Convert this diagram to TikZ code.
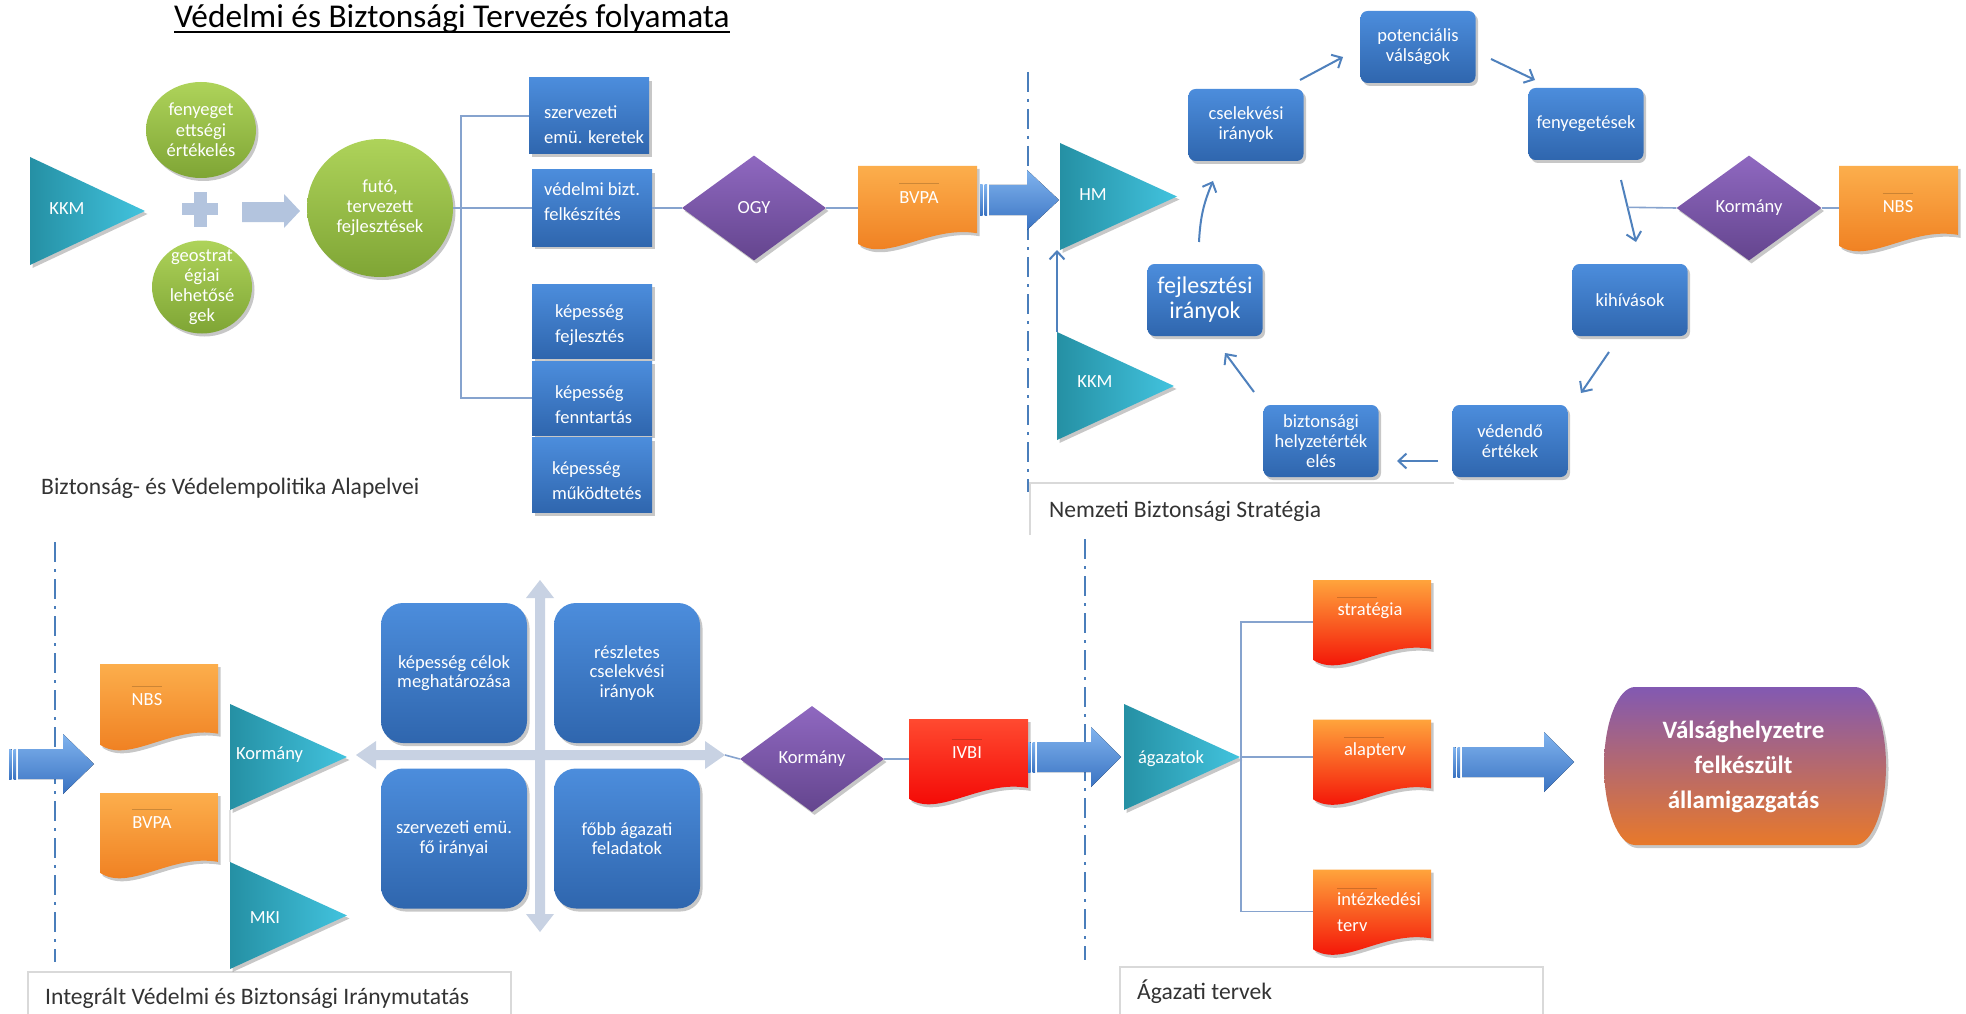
\documentclass[tikz,border=0pt]{standalone}
\usepackage{fontspec}
\setmainfont{Carlito}
\usetikzlibrary{shapes.geometric,calc,shadows,arrows.meta}

\definecolor{tealD}{HTML}{2590A4}
\definecolor{tealL}{HTML}{42C3DE}
\definecolor{grnT}{HTML}{AED35A}
\definecolor{grnB}{HTML}{7FA535}
\definecolor{bluT}{HTML}{4C8DDC}
\definecolor{bluB}{HTML}{2F66AE}
\definecolor{purT}{HTML}{8F68C0}
\definecolor{purB}{HTML}{64458E}
\definecolor{orgT}{HTML}{FCAE4C}
\definecolor{orgB}{HTML}{EE7A1C}
\definecolor{redT}{HTML}{FFA43C}
\definecolor{redM}{HTML}{FF1A0A}
\definecolor{redB}{HTML}{F20000}
\definecolor{ivT}{HTML}{FF4A30}
\definecolor{steel}{HTML}{B3C4DE}
\definecolor{crossc}{HTML}{C8D2E3}
\definecolor{lineb}{HTML}{4F81BD}
\definecolor{linkc}{HTML}{86A3CE}
\definecolor{dashc}{HTML}{4A7EBB}
\definecolor{arrT}{HTML}{80B3EE}
\definecolor{arrB}{HTML}{3A73C2}
\definecolor{termT}{HTML}{8259B2}
\definecolor{termB}{HTML}{E8792A}
\definecolor{frameg}{HTML}{D9D9D9}
\definecolor{txtg}{HTML}{333333}

\tikzset{
  lf/.style={font=\fontsize{18.5}{20.5}\selectfont},
  shadowed/.style={drop shadow={shadow xshift=2.5pt,shadow yshift=-3pt,opacity=0.22,fill=black}},
  frame/.style={rectangle,inner sep=0pt,outer sep=0pt,draw=none,fill=none},
  tri/.style={left color=tealD,right color=tealL,shadowed},
  gball/.style={ellipse,inner sep=0pt,top color=grnT,bottom color=grnB,text=white,align=center,lf,shadowed},
  sqbox/.style={rectangle,inner sep=0pt,minimum width=120pt,top color=bluT,bottom color=bluB,shadowed},
  cbox/.style={rectangle,rounded corners=7pt,inner sep=0pt,minimum width=115pt,minimum height=72pt,
    top color=bluT,bottom color=bluB,text=white,align=center,font=\fontsize{18.5}{20}\selectfont,shadowed},
  qbox/.style={rectangle,rounded corners=22pt,inner sep=0pt,minimum width=146pt,minimum height=140pt,
    top color=bluT,bottom color=bluB,text=white,align=center,font=\fontsize{18.5}{19.5}\selectfont,shadowed},
  dia/.style={diamond,inner sep=0pt,top color=purT,bottom color=purB,text=white,lf,shadowed},
  wlbl/.style={text=white,inner sep=0pt,lf,align=center},
  btxt/.style={text=white,inner sep=0pt,align=left,font=\fontsize{18.5}{25}\selectfont},
  docorg/.style={top color=orgT,bottom color=orgB,shadowed},
  docred/.style={top color=redT,middle color=redM,bottom color=redB,shadowed},
  docivbi/.style={top color=ivT,middle color=redM,bottom color=redB,shadowed},
  docline/.style={draw=black,draw opacity=0.18,line width=1pt},
  link/.style={draw=linkc,line width=1.6pt},
  faint/.style={draw=gray!25,line width=1.6pt},
  cyc/.style={draw=lineb,line width=2pt,-{Straight Barb[length=8pt,width=15pt]}},
  divider/.style={draw=dashc,line width=2.6pt,dash pattern=on 20pt off 7pt on 3pt off 7pt},
  boxline/.style={draw=frameg,line width=1.2pt},
  caption/.style={text=txtg,font=\fontsize{23.6}{27}\selectfont,inner sep=0pt,anchor=base west},
  arrowfill/.style={top color=arrT,bottom color=arrB},
  termfill/.style={top color=termT,bottom color=termB,shadowed},
}

% right-pointing triangle filling a frame node
\newcommand\trishape[1]{\path[tri] (#1.north west) -- (#1.east) -- (#1.south west) -- cycle;}
% document shape (wavy lower edge) filling a frame node
\newcommand\docshape[2]{%
  \path[#2] let \p1=(#1.north west), \p2=(#1.south east) in
    (\x1,\y1) -- (\x2,\y1) -- (\x2,{\y1+0.82*(\y2-\y1)})
    .. controls ({\x1+0.60*(\x2-\x1)},{\y1+0.72*(\y2-\y1)}) and ({\x1+0.25*(\x2-\x1)},{\y1+1.18*(\y2-\y1)}) ..
    (\x1,{\y1+0.95*(\y2-\y1)}) -- cycle;}
% striped block arrow: left x, tip x, centre y, head base x
\newcommand\stripearrow[4]{%
  \fill[arrowfill] (#1,#3-15) rectangle (#1+2.5,#3+15);
  \fill[arrowfill] (#1+4.5,#3-15) rectangle (#1+7,#3+15);
  \fill[arrowfill] (#1+9,#3-15) -- (#4,#3-15) -- (#4,#3-30) -- (#2,#3) -- (#4,#3+30) -- (#4,#3+15) -- (#1+9,#3+15) -- cycle;}

\begin{document}
\begin{tikzpicture}[x=1pt,y=-1pt]
\useasboundingbox (0,0) rectangle (1966,1014);
\fill[white] (0,0) rectangle (1966,1014);

% ---------- title and section captions ----------
\node[anchor=base west,inner sep=0pt,text=black,font=\fontsize{33.3}{38}\selectfont] (title) at (174,28) {Védelmi és Biztonsági Tervezés folyamata};
\draw[line width=1.4pt] ([yshift=-4pt]title.base west) -- ([yshift=-4pt]title.base east);

\node[caption] (capA) at (41,494) {Biztonság- és Védelempolitika Alapelvei};
\node[caption] (capB) at (1049,517) {Nemzeti Biztonsági Stratégia};
\node[caption] (capC) at (45,1004) {Integrált Védelmi és Biztonsági Iránymutatás};
\node[caption] (capD) at (1137,999) {Ágazati tervek};

\draw[boxline] (1030,535) -- (1030,483) -- (1454,483);
\draw[boxline] (28,1014) -- (28,972) -- (511,972) -- (511,1014);
\draw[boxline] (1120,1014) -- (1120,967) -- (1543,967) -- (1543,1014);

\draw[divider] (1028,72) -- (1028,492);
\draw[divider] (55,542) -- (55,962);
\draw[divider] (1085,539) -- (1085,960);

% ---------- principles ----------
\node[frame,minimum width=115pt,minimum height=108pt] (kkmA) at (87.5,211) {};
\trishape{kkmA}
\node[wlbl] (kkmA-t) at (67,209) {KKM};

\node[gball,minimum width=110pt,minimum height=96pt] (fenA) at (201,130) {fenyeget\\ettségi\\értékelés};
\node[gball,minimum width=100pt,minimum height=93pt,inner ysep=-10pt,font=\fontsize{18.5}{20}\selectfont] (geoA) at (202,287) {geostrat\\égiai\\lehetősé\\gek};

\fill[steel] (182,203) rectangle (218,215);
\fill[steel] (194,192) rectangle (207,227);
\fill[steel] (242,202) -- (284,202) -- (284,194) -- (300,211) -- (284,228) -- (284,222) -- (242,222) -- cycle;

\node[gball,minimum width=146pt,minimum height=138pt,font=\fontsize{18.5}{20}\selectfont] (futo) at (380,208) {futó,\\tervezett\\fejlesztések};

\node[sqbox,minimum height=76pt] (b1) at (589,116) {};
\node[btxt,anchor=west] (b1-t) at (544,124.5) {szervezeti\\emü. keretek};
\node[sqbox,minimum height=76pt] (b2) at (592,208) {};
\node[btxt,anchor=west] (b2-t) at (544,202) {védelmi bizt.\\felkészítés};
\node[sqbox,minimum height=74pt] (b3) at (592,321) {};
\node[btxt,anchor=west] (b3-t) at (555,325) {képesség\\fejlesztés};
\node[sqbox,minimum height=74pt] (b4) at (592,398) {};
\node[btxt,anchor=west] (b4-t) at (555,404.5) {képesség\\fenntartás};
\node[sqbox,minimum height=75pt] (b5) at (592,475) {};
\node[btxt,anchor=west] (b5-t) at (552,481) {képesség\\működtetés};

\coordinate (trunkA) at (461,208);
\draw[link] (b1.west) -| (trunkA) |- (b4.west);
\draw[link] (futo.east) -- (b2.west);

\node[dia,minimum width=144pt,minimum height=105pt] (ogy) at (754,208) {OGY};
\draw[link] (b2.east) -- (ogy.west);

\node[frame,minimum width=119pt,minimum height=82pt] (bvpaA) at (917.5,207) {};
\docshape{bvpaA}{docorg}
\node[wlbl] (bvpaA-t) at (919,198) {BVPA};
\draw[docline] ([yshift=8pt]bvpaA-t.north west) -- ([yshift=8pt]bvpaA-t.north east);
\draw[link] (ogy.east) -- (ogy.east -| bvpaA.west);

\stripearrow{980}{1059}{200}{1027}

% ---------- national security strategy cycle ----------
\node[frame,minimum width=117pt,minimum height=107pt] (hm) at (1118.5,196.5) {};
\trishape{hm}
\node[wlbl] (hm-t) at (1093,195) {HM};
\node[frame,minimum width=117pt,minimum height=108pt] (kkmB) at (1115.5,386) {};
\trishape{kkmB}
\node[wlbl] (kkmB-t) at (1095,382) {KKM};
\draw[cyc] (kkmB.north west) -- (kkmB.north west |- hm.south);

\node[cbox] (csel) at (1246,125) {cselekvési\\irányok};
\node[cbox] (pot) at (1418,47) {potenciális\\válságok};
\node[cbox] (feny) at (1586,124) {fenyegetések};
\node[cbox] (kih) at (1630,300) {kihívások};
\node[cbox] (ved) at (1510,441) {védendő\\értékek};
\node[cbox] (bizt) at (1321,441) {biztonsági\\helyzetérték\\elés};
\node[cbox,font=\fontsize{24}{25}\selectfont] (fejl) at (1205,300) {fejlesztési\\irányok};

\coordinate (c1a) at (1300,80);  \coordinate (c1b) at (1343,57);
\coordinate (c2a) at (1491,59);  \coordinate (c2b) at (1535,80);
\coordinate (c3a) at (1621,180); \coordinate (c3b) at (1636,242);
\coordinate (c4a) at (1609,352); \coordinate (c4b) at (1581,393);
\coordinate (c5a) at (1438,461); \coordinate (c5b) at (1397,461);
\coordinate (c6a) at (1254,392); \coordinate (c6b) at (1225,353);
\coordinate (c7a) at (1199,242); \coordinate (c7b) at (1213,181);
\draw[cyc] (c1a) -- (c1b);
\draw[cyc] (c2a) -- (c2b);
\draw[cyc] (c3a) -- coordinate[pos=0.44] (c3m) (c3b);
\draw[cyc] (c4a) -- (c4b);
\draw[cyc] (c5a) -- (c5b);
\draw[cyc] (c6a) -- (c6b);
\draw[cyc] (c7a) to[bend left=10] (c7b);

\node[dia,minimum width=145pt,minimum height=105pt] (korA) at (1749,208) {Kormány};
\node[frame,minimum width=119pt,minimum height=84pt] (nbsA) at (1898.5,208) {};
\docshape{nbsA}{docorg}
\node[wlbl] (nbsA-t) at (1898,207) {NBS};
\draw[docline] ([yshift=7pt]nbsA-t.north west) -- ([yshift=7pt]nbsA-t.north east);
\draw[link] (korA.east) -- (nbsA.west);
\draw[link] (korA.west) -- (c3m);

% ---------- integrated guidance ----------
\stripearrow{9}{94}{764}{63}

\node[frame,minimum width=118pt,minimum height=85pt] (nbsB) at (159,706.5) {};
\docshape{nbsB}{docorg}
\node[wlbl] (nbsB-t) at (147,700) {NBS};
\draw[docline] ([yshift=7pt]nbsB-t.north west) -- ([yshift=7pt]nbsB-t.north east);
\node[frame,minimum width=118pt,minimum height=84pt] (bvpaB) at (159,835) {};
\docshape{bvpaB}{docorg}
\node[wlbl] (bvpaB-t) at (152,823) {BVPA};
\draw[docline] ([yshift=7pt]bvpaB-t.north west) -- ([yshift=7pt]bvpaB-t.north east);

\node[frame,minimum width=117pt,minimum height=106pt] (korT) at (288.5,757) {};
\trishape{korT}
\node[wlbl,anchor=west] (korT-t) at (236,755) {Kormány};
\node[frame,minimum width=117pt,minimum height=107pt] (mki) at (288.5,915.5) {};
\trishape{mki}
\node[wlbl] (mki-t) at (265,918) {MKI};
\draw[faint] (korT.south west) -- (mki.north west);

\fill[crossc] (356,755) -- (376,741) -- (376,750) -- (705,750) -- (705,741) -- (725,755) -- (705,769) -- (705,760) -- (376,760) -- (376,769) -- cycle;
\fill[crossc] (540,580) -- (554,598) -- (545,598) -- (545,914) -- (554,914) -- (540,932) -- (526,914) -- (535,914) -- (535,598) -- (526,598) -- cycle;
\coordinate (crossR) at (725,755);

\node[qbox] (q1) at (454,673) {képesség célok\\meghatározása};
\node[qbox] (q2) at (627,673) {részletes\\cselekvési\\irányok};
\node[qbox] (q3) at (454,838.5) {szervezeti emü.\\fő irányai};
\node[qbox] (q4) at (627,838.5) {főbb ágazati\\feladatok};

\node[dia,minimum width=144pt,minimum height=106pt] (korB) at (812,759) {Kormány};
\draw[link] (crossR) -- (korB.west);

\node[frame,minimum width=119pt,minimum height=84pt] (ivbi) at (968.5,761) {};
\docshape{ivbi}{docivbi}
\node[wlbl] (ivbi-t) at (967,753) {IVBI};
\draw[docline] ([yshift=7pt]ivbi-t.north west) -- ([yshift=7pt]ivbi-t.north east);
\draw[link] (korB.east) -- (korB.east -| ivbi.west);

\stripearrow{1028}{1121}{757}{1091}

% ---------- sector plans ----------
\node[frame,minimum width=116pt,minimum height=106pt] (agaz) at (1182,757) {};
\trishape{agaz}
\node[wlbl] (agaz-t) at (1171,759) {ágazatok};

\node[frame,minimum width=118pt,minimum height=84pt] (strat) at (1372,622) {};
\docshape{strat}{docred}
\node[wlbl] (strat-t) at (1370,611) {stratégia};
\draw[docline] ([yshift=5pt]strat-t.north west) -- ++(40pt,0pt);
\node[frame,minimum width=118pt,minimum height=84pt] (alap) at (1372,761.5) {};
\docshape{alap}{docred}
\node[wlbl] (alap-t) at (1375,751) {alapterv};
\draw[docline] ([yshift=5pt]alap-t.north west) -- ++(40pt,0pt);
\node[frame,minimum width=118pt,minimum height=84pt] (intez) at (1372,911.5) {};
\docshape{intez}{docred}
\node[wlbl,anchor=west,align=left,font=\fontsize{18.5}{26}\selectfont] (intez-t) at (1337,912) {intézkedési\\terv};
\draw[docline] ([yshift=4pt]intez-t.north west) -- ++(40pt,0pt);

\coordinate (trunkB) at (1241,757);
\draw[link] (strat.west) -| (trunkB) |- (intez.west);
\draw[link] (agaz.east) -- (agaz.east -| alap.west);

\stripearrow{1453}{1574}{762}{1544}

\node[frame,minimum width=282pt,minimum height=158pt] (term) at (1745,766) {};
\path[termfill] let \p1=(term.north west), \p2=(term.south east), \p3=(term.east) in
  (\x1+31pt,\y1) -- (\x2-31pt,\y1)
  .. controls (\x2-14pt,\y1) and (\x2,\y1-36pt) .. (\x2,\y3)
  .. controls (\x2,\y2+36pt) and (\x2-14pt,\y2) .. (\x2-31pt,\y2)
  -- (\x1+31pt,\y2)
  .. controls (\x1+14pt,\y2) and (\x1,\y2+36pt) .. (\x1,\y3)
  .. controls (\x1,\y1-36pt) and (\x1+14pt,\y1) .. cycle;
\node[text=white,inner sep=0pt,align=center,font=\bfseries\fontsize{25}{35}\selectfont] (term-t) at (1743.5,767) {Válsághelyzetre\\felkészült\\államigazgatás};
\end{tikzpicture}
\end{document}
